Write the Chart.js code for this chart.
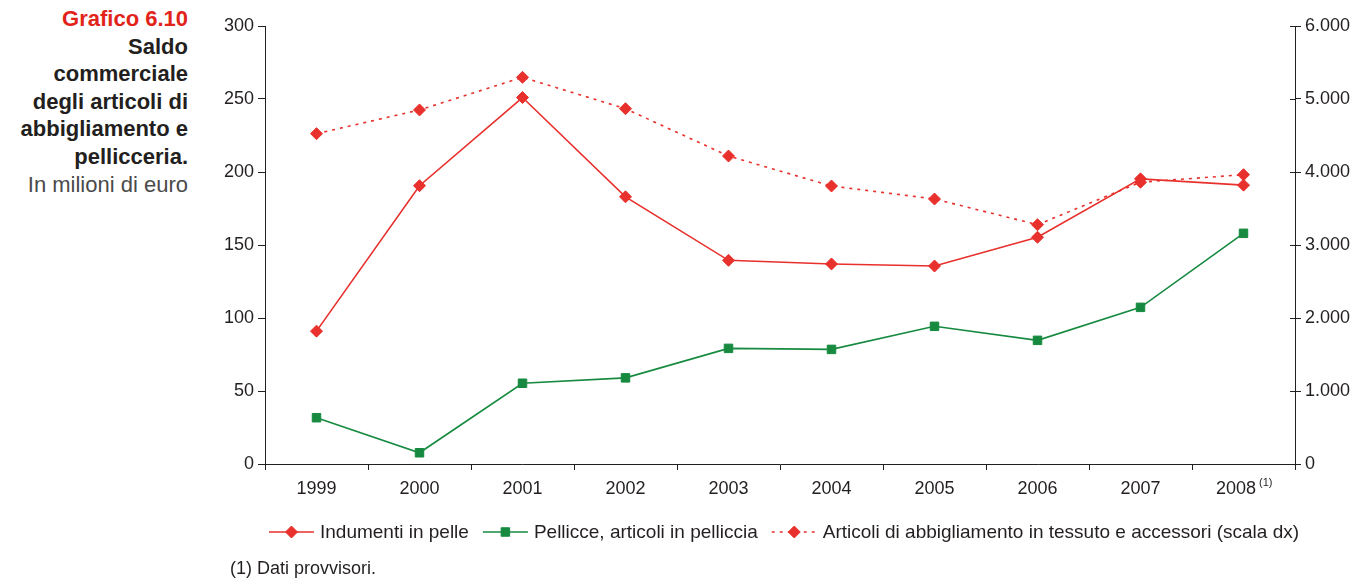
<!DOCTYPE html>
<html>
<head>
<meta charset="utf-8">
<script src="https://cdn.jsdelivr.net/npm/chart.js@4/dist/chart.umd.min.js"></script>
<style>
  html, body { margin: 0; padding: 0; background: #fff; }
  #wrap { position: relative; width: 1356px; height: 581px; overflow: hidden; }
  #title { position: absolute; left: 0; width: 188px; top: 5px; text-align: right;
           font-family: 'Liberation Sans', Arial, sans-serif; font-size: 22px; line-height: 27.6px;
           color: #231f20; font-weight: bold; }
  #title .red { color: #e2231a; }
  #title .sub { font-weight: normal; color: #4a4a4a; white-space: nowrap; }
  canvas { position: absolute; left: 0; top: 0; }
</style>
</head>
<body>
<div id="wrap">
  <div id="title"><span class="red">Grafico 6.10</span><br>Saldo<br>commerciale<br>degli articoli di<br>abbigliamento e<br>pellicceria.<br><span class="sub">In milioni di euro</span></div>
  <canvas id="c" width="1356" height="581"></canvas>
</div>
<script>
const years = ['1999', '2000', '2001', '2002', '2003', '2004', '2005', '2006', '2007', '2008'];
const indumentiPelle = [91, 190.6, 251, 183, 139.5, 137, 135.6, 155.3, 195.3, 191];
const pellicce = [31.7, 7.7, 55.3, 59, 79.2, 78.5, 94.3, 84.7, 107.3, 158];
const articoliTessuto = [4525, 4850, 5297, 4867, 4219, 3808, 3630, 3278, 3860, 3963];
const seriesNames = ['Indumenti in pelle', 'Pellicce, articoli in pelliccia', 'Articoli di abbigliamento in tessuto e accessori (scala dx)'];
const footnote = '(1) Dati provvisori.';
const provisionalMark = '(1)';

const RED = '#e8302c';
const GREEN = '#178a40';
const INK = '#231f20';
const FONT = "'Liberation Sans', Arial, sans-serif";

function fmtIt(v) {
  return String(Math.round(v)).replace(/\B(?=(\d{3})+(?!\d))/g, '.');
}

const xLabels = years.map((y, i) => i === years.length - 1 ? y + '   ' : y);

const extrasPlugin = {
  id: 'extras',
  afterDraw(chart) {
    const ctx = chart.ctx;
    ctx.save();
    // inward half of right-axis ticks (cross look)
    const r = chart.scales.y1;
    ctx.strokeStyle = INK;
    ctx.lineWidth = 1;
    r.ticks.forEach(t => {
      const py = Math.round(r.getPixelForValue(t.value)) + 0.5;
      ctx.beginPath();
      ctx.moveTo(r.left - 5, py); ctx.lineTo(r.left, py); ctx.stroke();
    });
    // legend
    ctx.font = '19px ' + FONT;
    const sample = 45, gapT = 6, gapI = 14;
    const items = chart.data.datasets.map(ds => ({ ds, w: ctx.measureText(ds.label).width }));
    const total = items.reduce((s, it) => s + sample + gapT + it.w, 0) + gapI * (items.length - 1);
    let x = 784 - total / 2;
    const y = 532;
    items.forEach(({ ds, w }) => {
      ctx.strokeStyle = ds.borderColor;
      ctx.lineWidth = ds.borderWidth;
      ctx.setLineDash(ds.borderDash || []);
      ctx.beginPath();
      ctx.moveTo(x, y); ctx.lineTo(x + sample, y); ctx.stroke();
      ctx.setLineDash([]);
      ctx.fillStyle = ds.pointBackgroundColor;
      ctx.strokeStyle = ds.pointBorderColor;
      ctx.lineWidth = 1;
      Chart.helpers.drawPoint(ctx, { pointStyle: ds.pointStyle, radius: ds.pointRadius, borderWidth: 1, rotation: 0 }, x + sample / 2, y);
      ctx.fillStyle = INK;
      ctx.textBaseline = 'middle';
      ctx.textAlign = 'left';
      ctx.fillText(ds.label, x + sample + gapT, y + 1);
      x += sample + gapT + w + gapI;
    });
    // footnote
    ctx.font = '18px ' + FONT;
    ctx.fillStyle = INK;
    ctx.textBaseline = 'middle';
    ctx.textAlign = 'left';
    ctx.fillText(footnote, 230, 569);
    // superscript after last category label
    const xs = chart.scales.x;
    const cx = xs.getPixelForValue(years.length - 1);
    const full = ctx.measureText(xLabels[years.length - 1]).width;
    const base = ctx.measureText(years[years.length - 1]).width;
    const endX = cx - full / 2 + base;
    ctx.font = '11px ' + FONT;
    ctx.fillText(provisionalMark, endX + 3, 483);
    ctx.restore();
  }
};

const datasets = [
  {
    label: seriesNames[0], data: indumentiPelle, yAxisID: 'y',
    borderColor: RED, backgroundColor: RED, borderWidth: 1.6,
    pointStyle: 'rectRot', pointRadius: 6, pointBackgroundColor: RED, pointBorderColor: RED, pointBorderWidth: 1,
    tension: 0, order: 2
  },
  {
    label: seriesNames[1], data: pellicce, yAxisID: 'y',
    borderColor: GREEN, backgroundColor: GREEN, borderWidth: 1.6,
    pointStyle: 'rect', pointRadius: 6, pointBackgroundColor: GREEN, pointBorderColor: GREEN, pointBorderWidth: 1,
    tension: 0, order: 3
  },
  {
    label: seriesNames[2], data: articoliTessuto, yAxisID: 'y1',
    borderColor: RED, backgroundColor: RED, borderWidth: 1.6, borderDash: [3, 5],
    pointStyle: 'rectRot', pointRadius: 6, pointBackgroundColor: RED, pointBorderColor: RED, pointBorderWidth: 1,
    tension: 0, order: 1
  }
];

new Chart(document.getElementById('c'), {
  type: 'line',
  data: { labels: xLabels, datasets },
  options: {
    responsive: false,
    animation: false,
    layout: { padding: { left: 200, right: 0, top: 26, bottom: 0 } },
    plugins: { legend: { display: false }, tooltip: { enabled: false } },
    scales: {
      x: {
        type: 'category', offset: true,
        grid: { drawOnChartArea: false, offset: true, tickLength: 6, color: INK, lineWidth: 1 },
        border: { color: INK, width: 1 },
        ticks: { color: INK, font: { family: FONT, size: 18 }, padding: 8, maxRotation: 0, autoSkip: false },
        afterFit(s) { s.height = 117; }
      },
      y: {
        position: 'left', min: 0, max: 300,
        grid: { drawOnChartArea: false, tickLength: 7, color: INK, lineWidth: 1 },
        border: { color: INK, width: 1 },
        ticks: { stepSize: 50, color: INK, font: { family: FONT, size: 18 }, padding: 4 },
        afterFit(s) { s.width = 65; }
      },
      y1: {
        position: 'right', min: 0, max: 6000,
        grid: { drawOnChartArea: false, tickLength: 6, color: INK, lineWidth: 1 },
        border: { color: INK, width: 1 },
        ticks: { stepSize: 1000, color: INK, font: { family: FONT, size: 18 }, padding: 4, callback: v => fmtIt(v) },
        afterFit(s) { s.width = 61; }
      }
    }
  },
  plugins: [extrasPlugin]
});
</script>
</body>
</html>
